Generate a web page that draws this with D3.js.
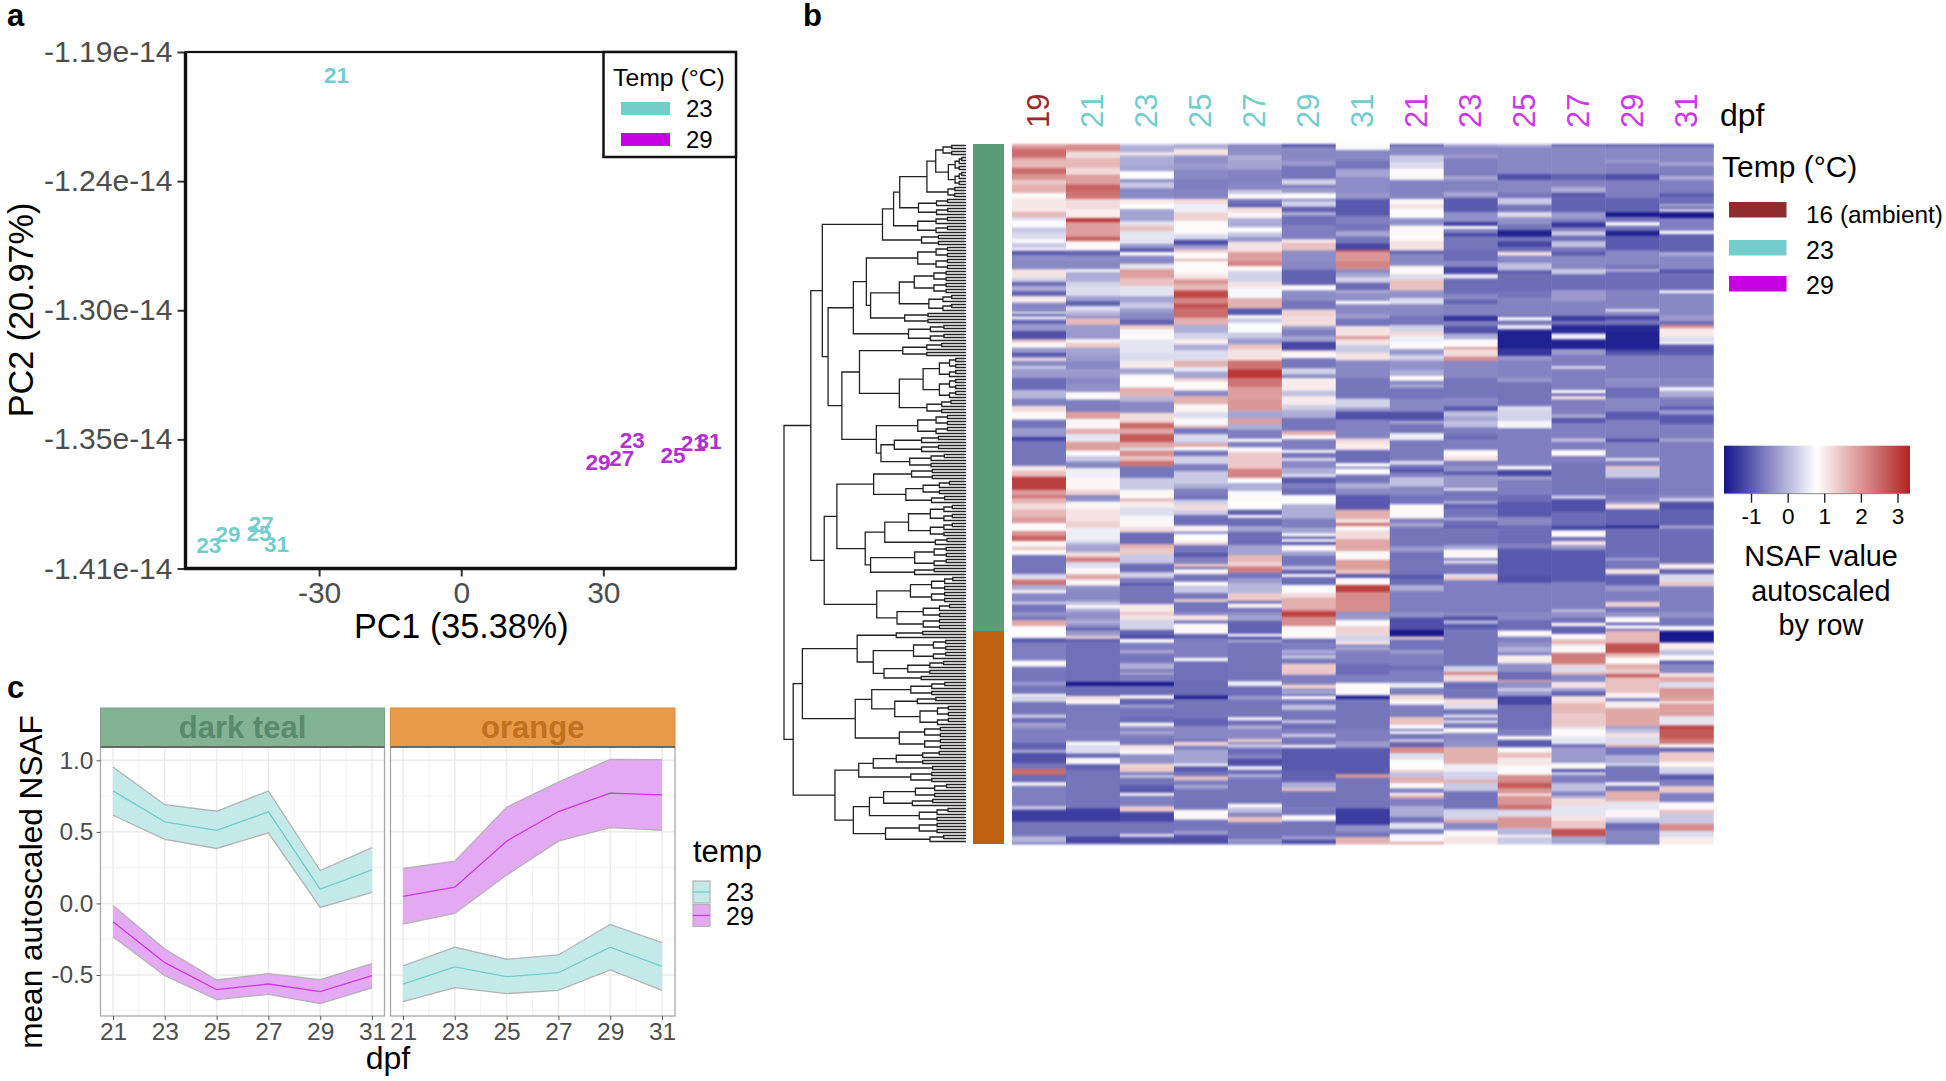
<!DOCTYPE html>
<html><head><meta charset="utf-8">
<script src="https://cdn.jsdelivr.net/npm/d3@7/dist/d3.min.js"></script>
<style>
html,body{margin:0;padding:0;background:#fff}
svg{display:block}
text{font-family:"Liberation Sans",Arial,sans-serif}
</style></head><body>
<script>
// Panel a
const pcDays=[21,23,25,27,29,31];
const pc1T23=[-26.3,-53.3,-42.7,-42.2,-49.2,-39];
const pc2T23=[-1.1998,-1.400,-1.395,-1.391,-1.3955,-1.3996];
const pc1T29=[49,36.1,44.7,33.9,28.9,52.3];
const pc2T29=[-1.3567,-1.3554,-1.3618,-1.3631,-1.3646,-1.3558];
const pcYTicks=[-1.19,-1.245,-1.30,-1.355,-1.41];
const pcYLabels=["-1.19e-14","-1.24e-14","-1.30e-14","-1.35e-14","-1.41e-14"];
const pcXTicks=[-30,0,30];
// Panel c
const dpfDays=[21,23,25,27,29,31];
const tealMean23=[.786,.57,.51,.64,.10,.235],tealHi23=[.953,.69,.644,.786,.23,.39],tealLo23=[.616,.447,.384,.493,-.028,.077];
const tealMean29=[-.128,-.414,-.602,-.563,-.616,-.505],tealHi29=[-.014,-.319,-.535,-.49,-.533,-.42],tealLo29=[-.233,-.505,-.672,-.635,-.7,-.59];
const orangeMean23=[-.563,-.444,-.512,-.484,-.305,-.44],orangeHi23=[-.437,-.305,-.39,-.36,-.147,-.274],orangeLo23=[-.686,-.588,-.63,-.607,-.465,-.607];
const orangeMean29=[.05,.114,.435,.642,.77,.758],orangeHi29=[.244,.295,.672,.847,1.007,1.005],orangeLo29=[-.144,-.07,.198,.435,.53,.51];
// Panel b: column labels and block-wise [startRow,value,...] runs, six bands of 39 rows
const heatLabels=["19","21","23","25","27","29","31","21","23","25","27","29","31"];
const heatTemps=[16,23,23,23,23,23,23,29,29,29,29,29,29];
const heat19=[
[0,1.8,1,2.2,2,2.5,4.5,1.9,5.3,1.6,8,2.5,10,2,12,1.4,13.5,1.7,16.3,.85,18,1.05,22.6,1.6,24.4,.4,25.5,.75,27.8,.2,29.8,.4,31.7,.7,33,.2,34.7,.6,35.6,-1,37,-.45],
[0,-.5,2.8,1.1,5.6,.3,6.9,-.8,8.3,-.1,10,-.9,11.7,1,13.9,-.5,17,.7,17.6,-1.1,18.3,.4,19.6,-.9,21,-.3,23.3,-1.1,26.1,1.6,27,.9,28.9,-.3,30.6,-1.1,31.7,-.5,32.4,1.2,33.3,-.5,35.1,.3,35.8,-.3],
[0,-.8,4,0,6.9,-.6,9.3,1.2,11.3,.85,13.9,-.7,16.7,-.3,19.6,-1.2,21.1,-.7,29.3,1,30.9,1.5,32.9,3,37.3,1.9],
[0,2.4,1.1,1.7,2.8,1.2,4.9,1.6,7.3,1.9,9.4,.85,12,2,13.6,2.6,15.3,.9,17.2,1.4,18.3,.85,20,-.7,26.4,.4,28.2,2.4,30,-.1,31.8,.85,32.7,-.5,35.6,.3,36.4,-.7],
[0,-.4,1.6,-.7,2.7,1.8,4.7,.8,8.7,-1,10.2,-.6,16.2,.85,18.2,-.7,23.3,-.3,24.4,-.7,27.3,.85,28,.3,30,-.7,34.2,.2,35.3,-.8,36.9,-.2,38,-.4],
[0,-.6,4.4,-.9,6.9,-.2,8,-1.1,11.3,-.7,13.3,2.5,15.3,-.8,17.8,.85,18.9,-.6,25.8,.2,26.9,-1.3,30.9,-.7,35.8,0,37.8,-.8]];
const heat21a=[
[0,2,.9,2.1,2.5,1.2,4.7,1.6,8,1.2,10.2,1.9,13.5,2.6,15.6,2.4,18.3,1.2,21.7,1,24.7,3.1,26,1.9,30.9,2.6,32.4,.85,35.5,-.9,37.2,-.45],
[0,-.5,2.8,.8,3.6,-.1,6.9,.3,8.7,.4,11.6,-.2,13.3,-.9,15,.4,16.7,0,18.3,-.5,19.1,1.6,21.3,-.3,26.1,.85,27.2,1.4,28.9,-.2,31.1,-.3,33.3,-.5,36.1,-.3],
[0,-.5,2.2,-.4,4.7,.85,7.2,-.6,11.3,1.9,13.6,.9,16.9,1.7,18.7,.5,21.3,1.9,24.2,.7,26,.2,27.8,-.5,30,.6,32.9,.9,37.3,1.3],
[0,-.5,.9,-.4,2.2,.85,4.4,1.1,8.7,1.3,10.9,.6,15.5,.2,16.4,-.2,19.1,1.2,20.7,2.2,22.4,.4,24.4,.85,26.4,1.8,28.2,.9,30.2,-.4,32,-.5,35.3,.1,36.7,.85,37.8,-.1],
[0,-.4,2.7,-.1,4,-.4,5.1,-.9,6.2,-.3,8,1.3,8.9,-.9,10.2,-.75,23.3,-1.7,24.7,-.8,28,1.1,29.6,.85,30.7,-.65],
[0,-.6,4.2,.85,5.3,.4,8.2,-.9,9.6,.85,11.7,-.9,13.6,-.7,26.4,-1.3,30.9,-.7,35.8,-1.2,38,-.8]];
const heat23a=[
[0,.1,.9,-.1,2.8,1,3.8,-.1,6.7,-.2,9.1,.8,11.7,-.45,12.8,.2,14.7,-.5,18.3,1,20,.8,21.7,-.2,25.8,.5,27.2,1.5,29,.5,33.3,-.3,34.7,-1,36,.85,37.2,-.5],
[0,-.5,.9,.5,2.7,1.9,5.8,1.5,8.3,.5,11.7,-.2,13.9,.2,15.8,-.3,17.2,-.5,19.4,-.9,21.3,1.4,22.7,.85,26.1,.5,30.6,.4,33.3,1,35.8,-.2,37.8,.85],
[0,.8,3.1,1.7,6.2,0,7.8,-.5,11.6,1.2,14.9,2.5,16.9,1.8,18.7,2.7,21.3,1.8,23.3,.5,24.2,2.1,26.1,1.5,27.6,2.4,29.4,-.7,33.3,.2,37.3,.85],
[0,.85,1.1,1.6,2.2,1,4.2,.4,6.9,.7,9.3,.9,10.7,1.2,12.4,-.8,16.4,1.7,17.8,1.4,19.8,.2,22.8,-.8,25.8,.3,27.6,-.6,29.3,-1,30.4,-.7,36.4,1.05],
[0,1.4,1.1,1.1,2.7,.3,6,-.9,7.8,-1.3,8.9,.8,10.2,-.6,12.7,-.2,13.8,-.7,17.1,-.1,19.1,-.7,20,-.2,20.9,-.6,23.3,-1.7,24.7,-.8,27.8,.85,28.9,-.9,30.9,-.2,31.8,-.7,34.4,-.8,36.9,.85,38,-.3],
[0,-.6,.7,-.2,1.8,-.6,3.3,-.7,5.3,1.1,7.1,.85,8.4,-.4,11.6,1.2,12.4,1.4,14.4,-.7,15.3,.2,16.2,-.7,18.7,-1,21.3,.85,22.2,-.6,25.8,1.4,27.6,-1.2,30.9,-.7,34.9,.3,36,-1.1]];
const heat25a=[
[0,-.1,1.7,1.1,3.8,-.4,6.7,-.3,8.4,-.5,11.7,-.6,15,-.55,18.3,1.2,20,.6,22.8,1.3,25.6,.85,30,.4,31.9,-1.1,33.7,-.3,35,1.4,36.1,.85,38.3,1.7],
[0,.7,1.1,.85,4.4,1.1,6.1,2,7.8,1.6,9.8,2.9,12.4,2.2,14.2,2.8,15.6,2.5,18.9,1.7,21.3,-.1,23.9,.3,26.1,1,27.8,-.1,29.8,.4,33.3,1.7,35.3,.5,36.9,-.2],
[0,1.4,1.1,.85,4.2,-.5,6,1.7,8.7,.9,11.3,.4,13.3,.7,15.8,1.6,16.7,-.7,18.7,.4,20.9,.2,21.8,1.9,22.9,.8,24.2,-.7,26,.3,28.7,-.6,31.1,.2,35.3,-.1,36.9,-.6],
[0,-.7,1.6,.3,3.3,1.2,5.1,.2,6.7,-.8,10.2,.9,12.2,-.6,12.9,.8,15.6,1.3,16.7,-.7,19.1,-1,20.7,-.6,22.9,1.5,24,-.8,24.7,.9,26.4,-.7,28.9,.8,30.2,.2,32.7,-.7,34.7,1.3,35.6,-.7],
[0,-.5,1.1,1.1,2.9,-.9,3.8,.85,7.3,-.9,8.9,-.6,15.3,.85,16.4,-.75,23.3,-.8,27.8,-1.6,29.1,-.7,35.6,-.9,38,-.5],
[0,-.5,3.6,-.9,4.2,1.3,5.6,-.6,6.9,-.2,11.6,.85,12.4,-1,14.4,-.7,15.8,1.5,17.1,-.6,18.7,-.2,19.8,-.7,26.9,.85,30.2,-.7,33.9,-.3,35.3,-1.1]];
const heat27a=[
[0,-.5,1.3,-.45,3.8,-.1,5.3,-.2,8.4,-.55,13.3,-.5,15.3,.2,16.7,.85,18.3,-.7,20,-1,21.1,1.2,22.8,.9,24.7,-.1,27.8,.8,29.4,.2,30.9,-.3,32.6,1.1,35.5,1.3,36.1,1.9,38.3,1.8],
[0,2.2,1.7,.85,3.3,.3,6.9,1.1,8.9,.7,12.4,1.7,15.8,-1,18,.85,19.1,.2,20.6,.75,23.9,.2,25.8,-.3,27.8,1.5,29.4,1.1,33.1,2.4,36.1,3.1],
[0,2.4,3.1,1.9,7.3,2,11.1,-.2,13.6,1.9,15.3,-.1,17.2,-.6,19.4,-.8,20.2,.85,21.3,-.6,23.1,.7,24.7,1.4,30.2,2.2,33.3,.8,35,-.1,37.6,.7],
[0,.85,2.2,.8,4.9,-.9,6.7,.85,7.6,-.8,10.4,-.2,12.2,-.8,16.7,-.2,20,1.6,22.4,1.3,23.8,2.3,25.8,-.7,27.8,-.3,29.3,0,32.7,1.4,35.3,-.8,36.2,.9,37.6,-.7],
[0,-.4,1.3,-.2,2.9,-.9,7.3,.85,8.2,-1.2,9.1,-.3,10.2,-.7,23.1,.6,24.7,-.8,28,-.3,29.1,-.7,35.1,.85,36.1,-.8,37.8,-.1],
[0,-.5,3.3,1.4,4.4,-.6,5.1,.2,6.2,-.7,6.9,-.8,8.7,-.5,9.8,-1.1,12.4,.6,13.6,-.8,15.1,-.1,16.1,-.7,24.9,.85,26.2,.1,27.8,-.5,29.3,1.5,31.1,-.7,36.7,-.3,37.8,-.8]];
const heat29a=[
[0,-1.1,.9,-.5,5.6,-.3,7.3,-.7,11.8,.3,13.6,-.6,14.7,-.3,16.4,.85,18.3,-.5,19,.3,20.9,-.9,22.7,-.1,23.8,-.75,27.2,-.6,31.8,1,32.8,1.5,35.5,-.45],
[0,-.5,2.8,-.9,8,.85,9.8,-.45,13.1,-.7,16.2,1.3,18.3,1.2,21.7,-.3,22.8,-.6,25,-.2,26.9,-1.2,29.8,1.1,30.6,.85,32.4,-.7,35.8,.3,37.8,-.5],
[0,1,4.2,.1,6.1,1,8.9,.3,10.7,-.1,13.3,-.7,17.6,1.7,19.1,.85,20.4,-.6,24,.8,24.9,-.7,26.7,.4,27.6,-.5,30,-.1,32,.4,33.1,-1,35,-.6,36.9,-.8],
[0,.8,3.1,-.1,7.8,-.6,11.1,-.2,12.8,.85,13.8,-.9,14.7,.85,15.6,-1,16.7,.85,18.7,-.2,20.2,-.7,23.8,.2,24.9,-.9,26.4,.85,27.3,-.8,30,.75,32.7,1.2,34.2,1.7,38.3,2.4],
[0,3,1.6,2.1,4.7,.85,8.9,-.8,10.2,-.6,12.7,-.1,13.8,-.6,14.4,.1,15.6,-.7,17.2,1.4,20.9,-.6,24.2,1.3,25.6,-.6,26.2,-.1,27.3,-.8,28,.85,29.1,-.7,30.9,.1,32.7,-.7,36,.1,37.1,-.8],
[0,-.6,1.6,.2,2.7,-.7,5.3,.85,6.2,-1,14.2,-.9,17.8,-.1,19.8,1.5,20.7,-.7,26.4,-.7,28.7,.7,30.6,-.7,35.8,-.3,36.9,-1.1]];
const heat31a=[
[0,.7,2,-.5,5.6,-.7,8.3,-.2,11,-.45,16.4,-.35,18.3,-1,23.9,-.6,26.1,-.7,29.1,-.2,30.9,-.7,33.1,-1.2,35.3,2.6,36.1,2],
[0,2.2,2.8,-.5,3.9,-.2,5.3,.3,7.2,-.8,9.8,-.1,10.6,-.4,13.3,.8,14.4,-.5,17.8,-.3,19.1,-.7,21.7,1.1,25.1,2,26.1,1.1,28,.2,30.6,1.1,33.1,-.5],
[0,-.7,6.9,.3,9.8,-.3,11.1,-1.1,13.9,-.55,20.2,1.2,21.8,1,24,-.8,28.4,.8,29.6,-.8,30.2,.8,32.2,-.7,35,-.1,36.9,-.5],
[0,-1,4.9,1.7,8,1.1,9.3,2.4,10.4,.7,11.8,1.2,14.7,1.8,18.7,.85,21.6,1.9,24.9,1.5,26.4,-1.1,27.6,.85,30,3,32.4,2.1],
[0,-.4,.9,-.3,2.7,.85,4.7,1.3,7.8,.3,9.8,1.1,10.9,-.6,11.6,-.2,12.7,-.6,17.2,-.8,20.9,-.6,23.6,.85,27.8,-1.6,29.1,-.7],
[0,-.6,4.2,-.3,6.2,-1,15.1,2,16.2,-.7,26.4,-1.3,32,-.4,34.2,-.7,36,1.7]];
const heat21b=[
[0,-.8,.9,-.5,3.8,.2,6.1,.4,8.3,.8,10.2,.9,12,-.55,18.3,.9,20,1.1,21.7,.75,24.7,-.4,27.2,.85,32.2,1.1,35.5,-.9,36.7,-.5],
[0,-.5,1.6,.85,4.4,.4,6.1,1.5,9.8,-.4,12.4,.4,14.4,-.5,18.3,-.7,21.4,.3,23.6,1.2,25,.6,27,.85,29.4,-.3,31.3,.3,33.1,-.4,36.4,-.1,38.3,.8],
[0,.85,.9,-.5,2.2,-.2,3.3,-.7,6.9,-.5,11.3,-1.1,14.2,-.2,15.3,-.7,18.4,.6,20.7,-.65,27.6,.4,28.9,-.7,30.2,-1.1,31.3,-.6,33.1,.1,36.1,-.5],
[0,-.7,3.1,.85,7.8,-.6,9.3,-.2,10.6,-.7,17.2,-.3,18.9,-.7,26.4,-1,28,-.8,30,-.1,32,-.6],
[0,-.4,1.8,-1.1,6,-1.7,8.2,1.3,9.1,-.7,12.7,-.3,13.8,-.6,18,-.8,19.3,-.6,23.6,.6,25.3,-.6,27.6,1.2,29.3,.7,30.9,-.6,35,1.5,37.6,.7],
[0,-.6,.7,.85,1.6,-.7,3.3,.1,4.4,-.9,6,2.1,8,.4,10.2,.8,13.6,1.3,14.4,.1,16,1.7,18,.85,19.8,-.6,21.3,.8,22,1.7,23.1,-.6,25.8,-.1,29.3,-.7,31.3,.5,33.3,-.6,35,.7,37.6,1.8]];
const heat23b=[
[0,-.1,.9,-.5,3.8,-.3,4.7,-.6,10.7,-.2,12,-.55,16.1,-.2,17.8,-1,22.8,-.4,26,-1.3,27.3,.8,28.3,-.6,29.8,-1.3,30.7,-.7,35.3,-.8],
[0,-.5,2,-1.2,4.4,.6,5.8,-.8,10.9,-.5,12.8,-.9,14.4,-.55,18.3,-1.4,20,-.6,21.7,-1.1,24.2,-.1,26.1,.85,28.7,2,29.4,1.2,31.9,2.1,33.3,-.5],
[0,-.7,6.7,-.5,9.4,-1,11.1,.1,12.9,-.2,14.4,.1,16.4,-.6,18.7,-.8,20.7,-.6,24,.85,26,1.1,27.6,-.6,29.3,-.4,31.1,-1,32.4,-.35,36.7,.4,37.6,-.7],
[0,-.7,2,-.1,2.9,-.9,4.7,-.7,7.6,-.1,8.4,-.8,10.2,-1,11.1,-.7,16.7,-.2,18.2,.85,21.1,-.8,21.8,.4,22.9,-.7,26.4,.6,27.1,1.4,28.4,-.6],
[0,-.5,1.6,-1.2,2.7,-.1,4,-1,5.8,-.7,18,.3,20,2.2,20.9,1.2,23.3,-.8,25.8,-.7,28.9,1.2,30.9,.4,32.4,-.7,34.2,.4,35.3,-.8,36,.3,37.1,-.7,38.7,.85],
[0,.9,1.3,-.5,3.6,-.4,6.1,1.7,11.7,.6,14.2,.3,16.9,1.7,18,.2,20.7,-.7,26.7,.3,30.2,1.8,31.3,-.5,33.8,.85,35.8,1.1]];
const heat25b=[
[0,0,.9,-.5,10,-1.1,12,-.5,16.1,-.7,18,.2,20.2,-.7,22.7,.4,24.4,-.4,26.7,-.7,28.7,-1.6,30.9,-.7,32.4,-1.2,34.4,-.8,35.9,1.1,37.2,-.5],
[0,-.5,.7,.1,3.1,-1,4.2,-.8,10,-.7,12.4,-.55,18.3,-.9,18.7,.85,19.8,-.7,21.3,.5,22.8,-1.6,29.4,-1.4,31.6,-.3,32.8,-.55],
[0,-.3,1.3,-.7,9.1,-.9,9.4,.4,10.9,.3,14.4,.7,16.7,-.6,29.3,.9,30.6,-1.2,32.8,-.2,33.9,-.6],
[0,-.8,2.2,-1,7.3,-.5,10.2,-.9,11.1,-.8,16.4,-.6,17.8,-1,26.7,-1.1,29.3,-.6],
[0,-.5,2.7,-.8,6.2,.85,8.2,-.6,10.2,-.4,11.8,-.1,13.6,-.7,14.4,1,17.1,-.4,20,-.8,22.7,1.9,23.3,-.4,25.3,.2,26.4,-.3,28,-1.2,30.9,-.75],
[0,-.6,2.4,.85,3.6,-1,6.1,.85,7.8,1.5,9.6,1.05,12.2,.85,15.3,2.1,17.8,2.7,19.8,2,21.6,.85,22.2,2,25.1,2.4,26.9,.4,29.3,2,33.1,0,35.3,.85,36,.2]];
const heat27b=[
[0,-.8,.9,-.5,10,-.9,12,-.55,14.4,-.1,16.2,-1,17.8,-.9,22.8,-.3,25,-.6,26.1,-1.4,27.8,-.6,29.1,.2,30.6,-.8,32.4,.1,34.4,-.7,35.8,-1,37.2,-.5],
[0,-.5,2.7,.2,4.4,-.8,9.8,-.3,13.3,-.55,18.3,-1.3,20,-.7,21.3,-1.5,24.2,.6,26.1,-1.6,29.4,-.3,31.3,-.6,35,.3,36,-.6],
[0,-.6,4,.85,5.1,-.9,6,1.1,7.1,-.6,12.2,-.1,13.3,-1,15.1,-.6,20.2,.1,21.3,-.6,24,.85,26,-.6,27.8,-.7],
[0,-.4,.3,.3,1.3,-1.1,5.8,-.8,10.2,-1.2,11.8,.85,14,-.8,15.3,1.1,16.7,-.3,18.2,-1,29.1,-.6,38.2,.1],
[0,-.4,1.8,-.8,3.6,.85,4.7,-.9,7.3,.85,9.1,1.6,10.9,.7,13.6,2.3,17.3,1.4,18.2,.4,20,1.6,20.9,-.5,23.3,1.1,25.3,-.2,26.4,-.9,28,1.1,30.2,1.6,33.6,1.4,38.2,.5],
[0,.85,2.7,.5,5.1,-.9,6,-.3,11.3,.85,13.3,-1,14.4,.3,15.3,-.6,18,.1,20.9,-.6,22.2,-.1,23.1,1.2,25.3,.5,28.7,1.1,30.6,1.4,33.3,2.8,35.8,-.2]];
const heat29b=[
[0,-.9,.9,-.5,5.3,-.3,6.2,-.55,10,-1.1,12,-.6,18,-.9,22.7,-1.7,24.4,-.7,26.1,.8,27.2,-.7,28.9,-1.6,30.7,-1,35.5,-.5],
[0,-.5,1.1,-.7,2.7,-.1,3.6,-.8,9.8,-.55,16,.4,16.9,-.5,18.3,-1.2,19.8,-.7,21.3,-1.5,23.6,-1.6,29.6,-1.1,31.3,-.6],
[0,-.4,1.3,-.5,3.3,-.8,6.7,-.5,11.1,-1,13.9,-.6,20.2,-1.1,21.3,-.55,26.7,.5,27.6,-.6,29.3,1.5,30.2,.2,33.3,-.7],
[0,-.6,2,-.4,2.9,1.1,4.7,-.9,10.2,-1.6,11.1,-.8,20.9,-.3,21.8,-.7,24.7,1.1,26.4,-.9,30.2,-.3,32,-.6,35.6,1.3,37.3,-.7],
[0,-.4,1.7,.85,3.6,-1.1,4.4,.85,5.6,-1,6.2,1.6,10.4,2.8,13.8,1.6,15.1,.85,17.3,1.7,19.1,1.4,20.7,2.7,21.8,1.5,27.1,.9,28.7,-.6,29.8,.95,32,1.8,38,-.2],
[0,.1,1.3,1.1,2.7,.4,5.1,1.6,6,-.7,8.7,-.1,11.6,.6,12.2,-.7,17.8,.85,18.9,-.7,20.7,1.7,24.2,.5,26.9,.9,29.6,.2,31.3,-.8,33.6,-.5,38,-1]];
const heat31b=[
[0,-1,.9,-.5,6.2,-.2,7.3,-.6,10.6,-.1,12,-.6,16.4,-1,17.8,-.8,20,-.1,20.7,-.7,21.7,.2,22.7,-1.7,24.7,-.6,28.9,.8,30,-.9,36.1,-.1,37.2,-.5],
[0,-.5,2.8,-1.1,3.9,-.8,9.8,.7,10.7,-.5,18,-.3,20,-.8,21.3,2.1,22.4,1,25.3,.4,27.1,.8,27.8,-1,31.3,-.6],
[0,-.5,3.1,.7,4.2,-.1,6.4,-.6,9.4,-1,10.6,-.3,12.2,-1,15.3,-.6,20.2,-.2,21.3,-.6],
[0,-.5,1.1,.3,2.2,-1.1,4.9,-.9,10.2,-.2,11.1,-.8,22.9,1,24.7,-.9,26.4,.4,28.9,1.4,30.4,-.6],
[0,-.4,1.8,-.7,4.7,.85,6.2,-1.7,10.2,1,12.7,.1,14.4,.85,16.2,-1,17.3,-.5,20.4,1.1,21.6,1.8,23.3,.4,25.3,2,28.2,1.9,29.8,.85,30.4,1.9,34.7,.5,37.8,3],
[0,2.7,3.3,2.3,5.1,.85,6.2,-.9,7.6,1.4,10.9,.9,12.7,.3,15.1,-1,16.9,-.6,19.1,1.4,21.3,-.6,24.4,.85,26.9,1.5,28.2,.2,31.6,2.1,34,.4,36,1]];
const heatColumns=[heat19,heat21a,heat23a,heat25a,heat27a,heat29a,heat31a,heat21b,heat23b,heat25b,heat27b,heat29b,heat31b];
const legendTicks=[-1,0,1,2,3];
// dendrogram: [height, childA, childB]; a [height, n] pair is a tight cluster of n leaves
const greenTree=[405,
 [375,
  [218,[189,[173,[102,[79,[60,4],[46,10]],[47,4]],[124,6]],[126,6]],[116,4]],
  [360,
   [294,[260,[126,8],[249,[174,[135,8],[97,6]],[160,4]]],[150,6]],
   [324,[278,[165,5],[174,[112,14],[102,5]]],[234,[126,7],[222,[187,6],[147,5]]]]]],
 [370,
  [337,[241,[142,4],[157,[112,5],[90,3]]],[263,[212,[150,11],[80,3]],[249,[134,7],[134,3]]]],
  [233,[145,9],[180,9]]]];
const orangeTree=[451,
 [427,
  [284,[182,3],[242,[137,7],[214,[152,5],[117,2]]]],
  [289,[246,[144,5],[186,[127,3],[120,7]]],[174,8]]],
 [342,
  [280,[242,[182,5],[87,2]],[144,4]],
  [294,[252,[215,[132,5],[140,3]],[122,5]],[210,[122,4],[94,3]]]]];
const dendroTree=[475,greenTree,orangeTree];
const moduleRows=[{name:"dark teal",to:162.33,fill:"#5a9b78"},{name:"orange",to:233.33,fill:"#bd6111"}];

const W=1946,H=1081;
const svg=d3.select("body").append("svg").attr("width",W).attr("height",H).attr("viewBox",`0 0 ${W} ${H}`);
svg.append("rect").attr("width",W).attr("height",H).attr("fill","#fff");
const TEAL="#72cdcc",PURPLE="#b030d0",DARKRED="#9b2a2a",MAGENTA="#cc38e8";
function txt(g,x,y,s,size,opt={}){
  const t=g.append("text").attr("x",x).attr("y",y).text(s).attr("font-size",size)
   .attr("fill",opt.fill||"#000").attr("text-anchor",opt.anchor||"start");
  if(opt.bold)t.attr("font-weight","bold");
  if(opt.rot)t.attr("transform",`rotate(${opt.rot} ${x} ${y})`);
  return t;
}
// panel letters
txt(svg,7,26,"a",31,{bold:true});
txt(svg,803,26,"b",31,{bold:true});
txt(svg,7,698,"c",31,{bold:true});

// ---- Panel a
{
 const L=185.5,R=736,T=52,B=568.5;
 const x=d3.scaleLinear().domain([-58.2,58]).range([L,R]);
 const y=d3.scaleLinear().domain([-1.19,-1.41]).range([T,B]);
 const g=svg.append("g");
 const yAxis=d3.axisLeft(y).tickValues(pcYTicks).tickFormat((d,i)=>pcYLabels[i]).tickSize(8).tickPadding(5);
 const xAxis=d3.axisBottom(x).tickValues(pcXTicks).tickFormat(d=>String(d)).tickSize(8).tickPadding(5);
 const ay=g.append("g").attr("transform",`translate(${L},0)`).call(yAxis);
 const ax=g.append("g").attr("transform",`translate(0,${B})`).call(xAxis);
 [ay,ax].forEach(a=>{a.select(".domain").remove();a.selectAll("line").attr("stroke","#333").attr("stroke-width",2);
  a.selectAll("text").attr("fill","#4d4d4d").attr("font-size",30).attr("font-family","Liberation Sans");});
 g.append("rect").attr("x",L).attr("y",T).attr("width",R-L).attr("height",B-T).attr("fill","none").attr("stroke","#111").attr("stroke-width",2.2);
 g.append("path").attr("d",d3.line()([[L,T],[L,B],[R,B]])).attr("fill","none").attr("stroke","#111").attr("stroke-width",3.4);
 g.selectAll("text.t23").data(pcDays).join("text").attr("class","t23")
  .attr("x",(d,i)=>x(pc1T23[i])).attr("y",(d,i)=>y(pc2T23[i])+8).attr("text-anchor","middle")
  .attr("font-size",22.5).attr("font-weight","bold").attr("fill",TEAL).text(d=>d);
 g.selectAll("text.t29").data(pcDays).join("text").attr("class","t29")
  .attr("x",(d,i)=>x(pc1T29[i])).attr("y",(d,i)=>y(pc2T29[i])+8).attr("text-anchor","middle")
  .attr("font-size",22.5).attr("font-weight","bold").attr("fill",PURPLE).text(d=>d);
 txt(g,(L+R)/2+.5,638,"PC1 (35.38%)",34.2,{anchor:"middle"});
 txt(g,33,310,"PC2 (20.97%)",34.2,{anchor:"middle",rot:-90});
 // legend
 g.append("rect").attr("x",603.5).attr("y",52).attr("width",132.5).attr("height",105).attr("fill","#fff").attr("stroke","#111").attr("stroke-width",2.5);
 txt(g,613,86,"Temp (°C)",24.8);
 [["23","#74cdca",102],["29","#c700e3",133]].forEach(([s,c,yy])=>{
  g.append("rect").attr("x",621).attr("y",yy).attr("width",49).attr("height",13).attr("fill",c);
  txt(g,686,yy+15,s,24);
 });
}

// ---- Panel c
{
 const T=747,B=1016,stripT=708;
 const y=d3.scaleLinear().domain([1.0,-.5]).range([760.3,975]);
 const facets=[
  {name:"dark teal",L:100.5,R:384.5,x0:113,x1:372,strip:"#84b294",stripStroke:"#7a9f88",ink:"#5a8a6c",
   s:[[tealMean23,tealHi23,tealLo23,"#72cdcc","#c3e9e8"],[tealMean29,tealHi29,tealLo29,"#c93ae8","#e3a9f3"]]},
  {name:"orange",L:390.5,R:675,x0:403,x1:662,strip:"#e89a4b",stripStroke:"#d58a3e",ink:"#c0701e",
   s:[[orangeMean29,orangeHi29,orangeLo29,"#c93ae8","#e3a9f3"],[orangeMean23,orangeHi23,orangeLo23,"#72cdcc","#c3e9e8"]]}];
 const g=svg.append("g");
 facets.forEach((f,fi)=>{
  const x=d3.scaleLinear().domain([21,31]).range([f.x0,f.x1]);
  d3.range(22,31,2).forEach(v=>g.append("line").attr("x1",x(v)).attr("x2",x(v)).attr("y1",T).attr("y2",B).attr("stroke","#f2f2f2").attr("stroke-width",1));
  dpfDays.forEach(v=>g.append("line").attr("x1",x(v)).attr("x2",x(v)).attr("y1",T).attr("y2",B).attr("stroke","#ebebeb").attr("stroke-width",1.5));
  [-.75,-.25,.25,.75].forEach(v=>g.append("line").attr("x1",f.L).attr("x2",f.R).attr("y1",y(v)).attr("y2",y(v)).attr("stroke","#f2f2f2").attr("stroke-width",1));
  [-.5,0,.5,1].forEach(v=>g.append("line").attr("x1",f.L).attr("x2",f.R).attr("y1",y(v)).attr("y2",y(v)).attr("stroke","#ebebeb").attr("stroke-width",1.5));
  f.s.forEach(([m,hi,lo,c,fill])=>{
   const area=d3.area().x((d,i)=>x(dpfDays[i])).y0((d,i)=>y(lo[i])).y1((d,i)=>y(hi[i]));
   const ln=arr=>d3.line().x((d,i)=>x(dpfDays[i])).y(d=>y(d))(arr);
   g.append("path").attr("d",area(m)).attr("fill",fill);
   g.append("path").attr("d",ln(hi)).attr("fill","none").attr("stroke","#b3b3b3").attr("stroke-width",1.3);
   g.append("path").attr("d",ln(lo)).attr("fill","none").attr("stroke","#b3b3b3").attr("stroke-width",1.3);
   g.append("path").attr("d",ln(m)).attr("fill","none").attr("stroke",c).attr("stroke-width",1.3);
  });
  g.append("rect").attr("x",f.L).attr("y",T).attr("width",f.R-f.L).attr("height",B-T).attr("fill","none").attr("stroke","#a8a8a8").attr("stroke-width",1.3);
  g.append("rect").attr("x",f.L).attr("y",stripT).attr("width",f.R-f.L).attr("height",T-stripT).attr("fill",f.strip).attr("stroke",f.stripStroke).attr("stroke-width",1);
  g.append("line").attr("x1",f.L).attr("x2",f.R).attr("y1",T).attr("y2",T).attr("stroke","#555").attr("stroke-width",1.5);
  txt(g,(f.L+f.R)/2,738,f.name,31,{anchor:"middle",bold:true,fill:f.ink});
  const ax=g.append("g").attr("transform",`translate(0,${B})`).call(d3.axisBottom(x).tickValues(dpfDays).tickFormat(d=>String(d)).tickSize(4).tickPadding(3));
  ax.select(".domain").remove();ax.selectAll("line").attr("stroke","#555");
  ax.selectAll("text").attr("fill","#4d4d4d").attr("font-size",24.5).attr("font-family","Liberation Sans");
  if(fi===0){
   const ay=g.append("g").attr("transform",`translate(${f.L},0)`).call(d3.axisLeft(y).tickValues([-.5,0,.5,1]).tickFormat(d=>d.toFixed(1)).tickSize(4).tickPadding(3));
   ay.select(".domain").remove();ay.selectAll("line").attr("stroke","#555");
   ay.selectAll("text").attr("fill","#4d4d4d").attr("font-size",24.5).attr("font-family","Liberation Sans");
  }
 });
 txt(g,388,1069,"dpf",32,{anchor:"middle"});
 txt(g,42,882,"mean autoscaled NSAF",31.6,{anchor:"middle",rot:-90});
 txt(g,693,862,"temp",31);
 [["23","#c3e9e8","#72cdcc",881],["29","#e3a9f3","#c93ae8",904.5]].forEach(([s,fill,c,yy])=>{
  g.append("rect").attr("x",693).attr("y",yy).attr("width",17).attr("height",22).attr("fill",fill).attr("stroke","#b3b3b3").attr("stroke-width",1.2);
  g.append("line").attr("x1",693).attr("x2",710).attr("y1",yy+11).attr("y2",yy+11).attr("stroke",c).attr("stroke-width",1.3);
  txt(g,726,yy+20,s,25);
 });
}

// ---- Panel b
{
 const TOP=144,BOT=844,totalRows=233.33;
 const y=d3.scaleLinear().domain([0,totalRows]).range([TOP,BOT]);
 const xb=d3.scaleBand().domain(d3.range(13)).range([1012,1713.5]);
 const color=d3.scaleLinear().domain([-1.74,.78,3.34]).range(["#14148c","#ffffff","#b22222"]).clamp(true);
 const g=svg.append("g");
 const defs=svg.append("defs");
 const soft=defs.append("filter").attr("id","softRows").attr("filterUnits","userSpaceOnUse")
  .attr("x",1000).attr("y",130).attr("width",730).attr("height",730).attr("color-interpolation-filters","sRGB");
 soft.append("feGaussianBlur").attr("stdDeviation","0.3 0.8");
 const cells=g.append("g").attr("filter","url(#softRows)");
 heatColumns.forEach((bands,c)=>{
  bands.forEach((runs,b)=>{
   const bandStart=b*39,bandEnd=Math.min((b+1)*39,totalRows);
   for(let i=0;i<runs.length;i+=2){
    const s=bandStart+runs[i];
    const e=i+2<runs.length?bandStart+runs[i+2]:bandEnd;
    cells.append("rect").attr("x",xb(c)).attr("width",xb.bandwidth()+.3)
     .attr("y",y(s)).attr("height",y(e)-y(s)+.3).attr("fill",color(runs[i+1]));
   }
  });
 });
 // column labels
 const tempColor={16:DARKRED,23:TEAL,29:MAGENTA};
 heatLabels.forEach((s,i)=>{
  const cx=xb(i)+xb.bandwidth()/2+10.5;
  txt(g,cx,128,s,31,{rot:-90,fill:tempColor[heatTemps[i]]});
 });
 txt(g,1720,126,"dpf",32);
 // module side bar
 let from=0;
 moduleRows.forEach(m=>{
  g.append("rect").attr("x",973).attr("width",31).attr("y",y(from)).attr("height",y(m.to)-y(from)).attr("fill",m.fill);
  from=m.to;
 });
 // dendrogram
 const hx=d3.scaleLinear().domain([0,475]).range([966,784]);
 function toNode(a){
  if(a.length===2&&typeof a[1]==="number")return tight(a[0],a[1]);
  return {h:a[0],kids:[toNode(a[1]),toNode(a[2])]};
 }
 function tight(h,n){
  if(n<=1)return {h:0};
  const k=Math.ceil(n/2);
  return {h:h,kids:[tight(h*.62,k),tight(h*.62,n-k)]};
 }
 const root=d3.hierarchy(toNode(dendroTree),d=>d.kids);
 let leaf=0;
 root.eachAfter(n=>{
  if(!n.children){n.row=leaf+.5;leaf+=1;}
  else n.row=(n.children[0].row+n.children[1].row)/2;
 });
 const path=d3.path();
 root.descendants().forEach(n=>{
  if(!n.children)return;
  const [a,b]=n.children;
  path.moveTo(hx(a.data.h),y(a.row));path.lineTo(hx(n.data.h),y(a.row));
  path.lineTo(hx(n.data.h),y(b.row));path.lineTo(hx(b.data.h),y(b.row));
 });
 g.append("path").attr("d",path.toString()).attr("fill","none").attr("stroke","#222").attr("stroke-width",1.3);
 // temperature legend
 txt(g,1722,177,"Temp (°C)",30);
 [["16 (ambient)","#8f2c2c",202,1806,222.5],["23","#74cdca",240,1806,258.5],["29","#c700e3",276,1806,294]].forEach(([s,c,yy,tx,by])=>{
  g.append("rect").attr("x",1729).attr("y",yy).attr("width",57.5).attr("height",15.5).attr("fill",c);
  txt(g,tx,by,s,s.length>2?24.4:25);
 });
 // colour key
 const cx=d3.scaleLinear().domain([-1,3]).range([1751,1897.5]);
 const keyDom=[cx.invert(1724),cx.invert(1910)];
 const lg=defs.append("linearGradient").attr("id","heatKey");
 d3.range(0,1.0001,.05).forEach(t=>lg.append("stop").attr("offset",t).attr("stop-color",color(keyDom[0]+t*(keyDom[1]-keyDom[0]))));
 g.append("rect").attr("x",1724).attr("y",445.7).attr("width",186).attr("height",48).attr("fill","url(#heatKey)");
 const kax=g.append("g").attr("transform","translate(0,493.7)").call(d3.axisBottom(cx).tickValues(legendTicks).tickFormat(d=>String(d)).tickSize(9).tickPadding(5));
 kax.select(".domain").attr("stroke","#888").attr("d","M1724,0H1910");
 kax.selectAll("line").attr("stroke","#222").attr("stroke-width",1.4);
 kax.selectAll("text").attr("fill","#000").attr("font-size",22.5).attr("font-family","Liberation Sans");
 ["NSAF value","autoscaled","by row"].forEach((s,i)=>txt(g,1821,566+i*34.5,s,28.8,{anchor:"middle"}));
}
</script>
</body></html>
